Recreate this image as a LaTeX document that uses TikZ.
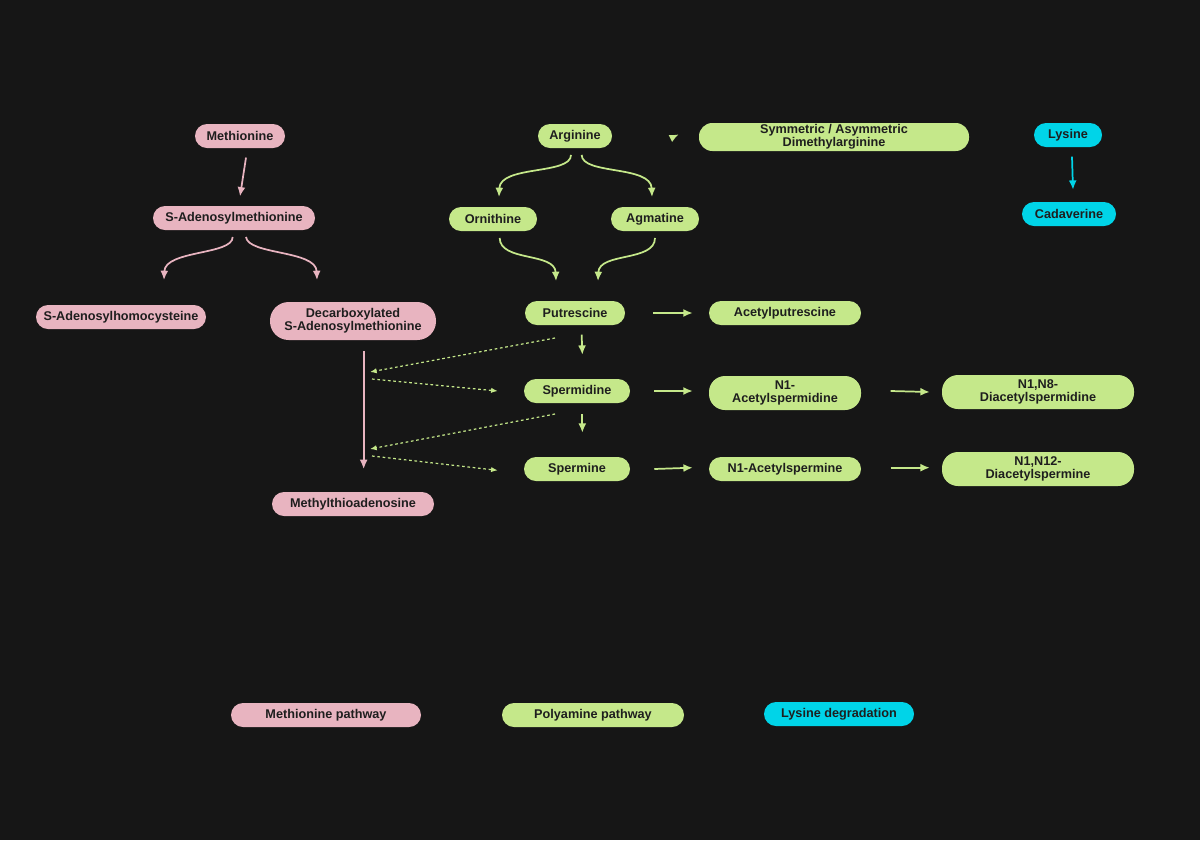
\documentclass[tikz,border=0pt]{standalone}
\usepackage{fontspec}
\setmainfont{Liberation Sans}
\usetikzlibrary{arrows.meta}
\definecolor{bg}{HTML}{161616}
\definecolor{pk}{HTML}{E8B4C0}
\definecolor{gr}{HTML}{C5E88A}
\definecolor{cy}{HTML}{00D4E8}
\definecolor{tx}{HTML}{1E1E1E}
\begin{document}
\begin{tikzpicture}[x=0.75pt,y=-0.75pt,
 box/.style={rounded corners=9pt,minimum height=18pt,inner sep=1pt,text=tx,font=\bfseries\fontsize{9.5}{9.5}\selectfont,align=center},
 pkb/.style={box,fill=pk}, grb/.style={box,fill=gr}, cyb/.style={box,fill=cy},
 arr/.style={line width=1.3pt,-{Latex[length=7pt,width=6pt]}},
 dot/.style={line width=0.9pt,dash pattern=on 2pt off 2pt,gr,-{Latex[length=5pt,width=4pt]}}]
\fill[bg] (0,0) rectangle (1200,840);
\useasboundingbox (0,0) rectangle (1200,840);
\node[pkb,minimum width=67.5pt] (met) at (240,136) {Methionine};
\node[pkb,minimum width=121.5pt] (sam) at (234,218) {S-Adenosylmethionine};
\node[pkb,minimum width=127.5pt] (sah) at (121,317) {S-Adenosylhomocysteine};
\node[pkb,minimum width=124.5pt,minimum height=28.5pt,rounded corners=14pt] (dc) at (353,321) {Decarboxylated\\S-Adenosylmethionine};
\node[pkb,minimum width=121.5pt] (mta) at (353,504) {Methylthioadenosine};
\node[grb,minimum width=55.5pt] (arg) at (575,136) {Arginine};
\node[grb,minimum width=202.5pt,minimum height=21pt,rounded corners=10pt] (sdma) at (834,137) {Symmetric / Asymmetric\\Dimethylarginine};
\node[cyb,minimum width=51pt] (lys) at (1068,135) {Lysine};
\node[cyb,minimum width=70.5pt] (cad) at (1069,214) {Cadaverine};
\node[grb,minimum width=66pt] (orn) at (493,219) {Ornithine};
\node[grb,minimum width=66pt] (agm) at (655,219) {Agmatine};
\node[grb,minimum width=75pt] (put) at (575,313) {Putrescine};
\node[grb,minimum width=114pt] (aput) at (785,313) {Acetylputrescine};
\node[grb,minimum width=79.5pt] (spd) at (577,391) {Spermidine};
\node[grb,minimum width=114pt,minimum height=25.5pt,rounded corners=12pt] (aspd) at (785,393) {N1-\\Acetylspermidine};
\node[grb,minimum width=144pt,minimum height=25.5pt,rounded corners=12pt] (dspd) at (1038,392) {N1,N8-\\Diacetylspermidine};
\node[grb,minimum width=79.5pt] (spm) at (577,469) {Spermine};
\node[grb,minimum width=114pt] (aspm) at (785,469) {N1-Acetylspermine};
\node[grb,minimum width=144pt,minimum height=25.5pt,rounded corners=12pt] (dspm) at (1038,469) {N1,N12-\\Diacetylspermine};
\node[pkb,minimum width=142.5pt] (l1) at (326,715) {Methionine pathway};
\node[grb,minimum width=136.5pt] (l2) at (593,715) {Polyamine pathway};
\node[cyb,minimum width=112.5pt] (l3) at (839,714) {Lysine degradation};
% pink
\draw[arr,pk] ([xshift=4.5pt,yshift=-7pt]met.south) -- ([xshift=4.5pt,yshift=7pt]sam.north);
\draw[arr,pk] ([xshift=-1pt,yshift=-5pt]sam.south) .. controls (233,255) and (165,250) .. (164,280);
\draw[arr,pk] ([xshift=9pt,yshift=-5pt]sam.south) .. controls (248,255) and (316,250) .. (317,280);
\draw[arr,pk] ([xshift=8pt,yshift=-8pt]dc.south) -- ([xshift=8pt,yshift=17pt]mta.north);
% green
\draw[arr,gr] ([xshift=-3pt,yshift=-5pt]arg.south) .. controls (571,175) and (500,165) .. (499,197);
\draw[arr,gr] ([xshift=5pt,yshift=-5pt]arg.south) .. controls (582,175) and (651,165) .. (652,197);
\draw[arr,gr] ([xshift=5pt,yshift=-5pt]orn.south) .. controls (500,262) and (555,252) .. (556,281);
\draw[arr,gr] ([yshift=-5pt]agm.south) .. controls (655,262) and (599,252) .. (598,281);
\draw[arr,gr] ([xshift=-19pt]sdma.west) -- ([xshift=-15pt,yshift=2pt]sdma.west);
\draw[arr,gr] ([xshift=5pt,yshift=-7pt]put.south) -- ([xshift=4pt,yshift=18pt]spd.north);
\draw[arr,gr] ([xshift=4pt,yshift=-8pt]spd.south) -- ([xshift=4pt,yshift=18pt]spm.north);
\draw[arr,gr] ([xshift=21pt]put.east) -- ([xshift=-12pt]aput.west);
\draw[arr,gr] ([xshift=18pt]spd.east) -- ([xshift=-12pt,yshift=1.5pt]aspd.west);
\draw[arr,gr] ([xshift=22pt,yshift=1.5pt]aspd.east) -- ([xshift=-9pt]dspd.west);
\draw[arr,gr] ([xshift=18pt]spm.east) -- ([xshift=-12pt,yshift=1pt]aspm.west);
\draw[arr,gr] ([xshift=22pt,yshift=1pt]aspm.east) -- ([xshift=-9pt,yshift=1pt]dspm.west);
\draw[arr,cy] ([xshift=3pt,yshift=-7pt]lys.south) -- ([xshift=3pt,yshift=9pt]cad.north);
% dotted
\coordinate (d1) at (370,372); \coordinate (d2) at (372,379);
\coordinate (d3) at (370,449); \coordinate (d4) at (372,456);
\draw[dot] (555,338) -- (d1);
\draw[dot] (d2) -- ([xshift=-19.5pt]spd.west);
\draw[dot] (555,414) -- (d3);
\draw[dot] (d4) -- ([xshift=-19.5pt,yshift=-1pt]spm.west);
\end{tikzpicture}
\end{document}
